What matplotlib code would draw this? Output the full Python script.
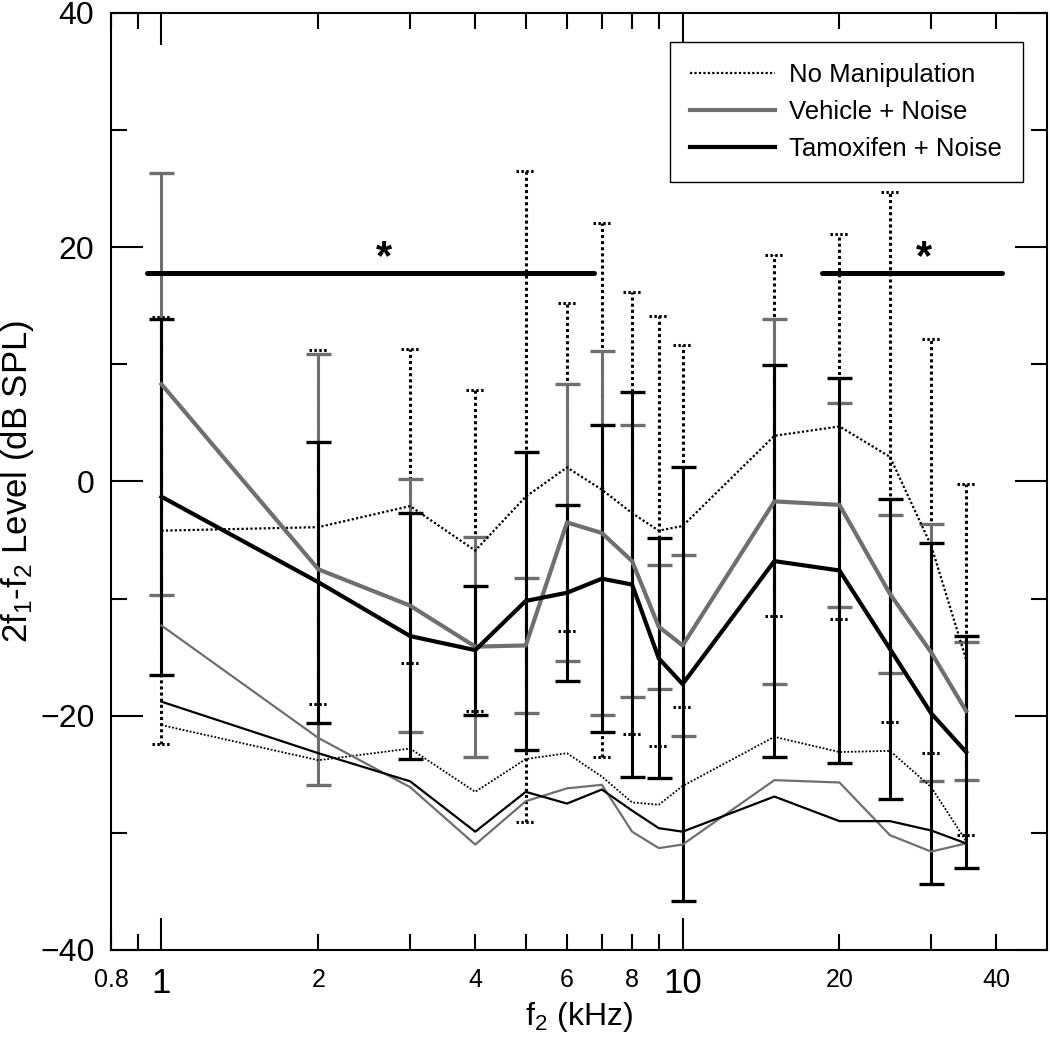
import numpy as np
import matplotlib
matplotlib.use('Agg')
from matplotlib import pyplot as plt
from matplotlib.ticker import FixedLocator, FixedFormatter, NullFormatter

plt.rcParams['font.family'] = ['Liberation Sans', 'DejaVu Sans']
plt.rcParams['mathtext.default'] = 'regular'

# f2 frequencies (kHz)
freqs = [1, 2, 3, 4, 5, 6, 7, 8, 9, 10, 15, 20, 25, 30, 35]

# DPOAE means and SDs per group (dB SPL)
nm_mean = [-4.2, -3.9, -2.1, -5.9, -1.3, 1.2, -0.7, -2.7, -4.2, -3.8, 3.9, 4.7, 2.1, -5.5, -15.2]
nm_sd = [18.2, 15.1, 13.4, 13.7, 27.8, 14.0, 22.8, 18.85, 18.35, 15.45, 15.4, 16.45, 22.6, 17.65, 15.0]
veh_mean = [8.3, -7.5, -10.6, -14.1, -14.0, -3.5, -4.4, -6.8, -12.4, -14.0, -1.7, -2.0, -9.6, -14.6, -19.6]
veh_sd = [18.0, 18.4, 10.8, 9.4, 5.8, 11.85, 15.5, 11.6, 5.3, 7.75, 15.6, 8.7, 6.75, 10.95, 5.9]
tam_mean = [-1.3, -8.6, -13.2, -14.4, -10.2, -9.5, -8.3, -8.8, -15.1, -17.3, -6.8, -7.6, -14.3, -19.8, -23.1]
tam_sd = [15.2, 12.0, 10.5, 5.5, 12.7, 7.5, 13.1, 16.45, 10.25, 18.5, 16.75, 16.45, 12.8, 14.55, 9.9]

# noise floors
nm_floor = [-20.8, -23.8, -22.8, -26.5, -23.7, -23.2, -25.2, -27.4, -27.6, -26.0, -21.8, -23.1, -23.0, -26.1, -30.7]
veh_floor = [-12.3, -21.9, -26.1, -31.0, -27.3, -26.2, -25.9, -29.9, -31.3, -31.0, -25.5, -25.7, -30.2, -31.6, -30.9]
tam_floor = [-18.8, -23.2, -25.6, -29.9, -26.5, -27.5, -26.3, -28.1, -29.6, -29.9, -26.9, -29.0, -29.0, -29.8, -30.9]

# significance bars: (x start, x end, level, star x)
sig_bars = [(0.94, 6.75, 17.8, 2.67), (18.5, 41.0, 17.8, 29.1)]

gray = '#6f6f6f'
dot = (0, (1, 1))

fig = plt.figure(figsize=(10.5, 10.46), dpi=100)
ax = fig.add_axes([0.1057, 0.0918, 0.8913, 0.8958])

x = np.array(freqs)

# no manipulation: dotted bars and dotted caps
nm_lo = np.array(nm_mean) - np.array(nm_sd)
nm_hi = np.array(nm_mean) + np.array(nm_sd)
ax.vlines(x, nm_lo, nm_hi, colors='k', linestyles=dot, lw=2.2, zorder=2)
f = 10 ** 0.018
ax.hlines(np.r_[nm_lo, nm_hi], np.r_[x, x] / f, np.r_[x, x] * f,
          colors='k', linestyles=(0, (0.8, 0.8)), lw=2.2, zorder=2)

ax.errorbar(x, veh_mean, yerr=veh_sd, fmt='none', ecolor=gray, elinewidth=2.2,
            capsize=9, capthick=2.4, zorder=3)
ax.errorbar(x, tam_mean, yerr=tam_sd, fmt='none', ecolor='k', elinewidth=2.2,
            capsize=9, capthick=2.4, zorder=4)

# noise floors
ax.plot(x, nm_floor, color='k', ls=dot, lw=1.3, zorder=5)
ax.plot(x, veh_floor, color=gray, lw=1.6, zorder=5)
ax.plot(x, tam_floor, color='k', lw=1.6, zorder=5)

# means
ax.plot(x, nm_mean, color='k', ls=dot, lw=1.6, zorder=6, label='No Manipulation')
ax.plot(x, veh_mean, color=gray, lw=3.0, zorder=6, label='Vehicle + Noise')
ax.plot(x, tam_mean, color='k', lw=3.0, zorder=7, label='Tamoxifen + Noise')

for x0, x1, lev, xs in sig_bars:
    ax.plot([x0, x1], [lev, lev], color='k', lw=3.6, solid_capstyle='round', zorder=8)
    ax.text(xs, lev - 0.4, '*', fontsize=30, fontweight='bold', ha='center', va='bottom')

ax.set_xscale('log')
ax.set_xlim(0.8, 50)
ax.set_ylim(-40, 40)

ax.xaxis.set_major_locator(FixedLocator([1, 10]))
ax.xaxis.set_major_formatter(FixedFormatter(['1', '10']))
minor_pos = [0.8, 0.9, 2, 3, 4, 5, 6, 7, 8, 9, 20, 30, 40]
minor_lab = ['0.8', '', '2', '', '4', '', '6', '', '8', '', '20', '', '40']
ax.xaxis.set_minor_locator(FixedLocator(minor_pos))
ax.xaxis.set_minor_formatter(FixedFormatter(minor_lab))

ax.set_yticks([-40, -20, 0, 20, 40])
ax.set_yticks([-30, -10, 10, 30], minor=True)
ax.yaxis.set_minor_formatter(NullFormatter())

ax.tick_params(which='both', direction='in', top=True, right=True, width=1.5)
ax.tick_params(which='major', length=23)
ax.tick_params(which='minor', length=11.5)
ax.tick_params(axis='x', which='major', labelsize=25, pad=12)
ax.tick_params(axis='x', which='minor', labelsize=18, pad=13)
ax.tick_params(axis='y', which='major', labelsize=23, pad=12)
for s in ax.spines.values():
    s.set_linewidth(1.5)

ax.set_xlabel('f$_2$ (kHz)', fontsize=23, labelpad=0)
ax.set_ylabel('2f$_1$-f$_2$ Level (dB SPL)', fontsize=25, labelpad=3)

leg = ax.legend(loc='upper right', bbox_to_anchor=(0.974, 0.969), borderaxespad=0,
                fontsize=18.5, fancybox=False, edgecolor='k', framealpha=1,
                handlelength=3.3, handletextpad=0.55, labelspacing=0.52, borderpad=0.8)
leg.get_frame().set_linewidth(1.0)

fig.savefig('out.png', dpi=100)
